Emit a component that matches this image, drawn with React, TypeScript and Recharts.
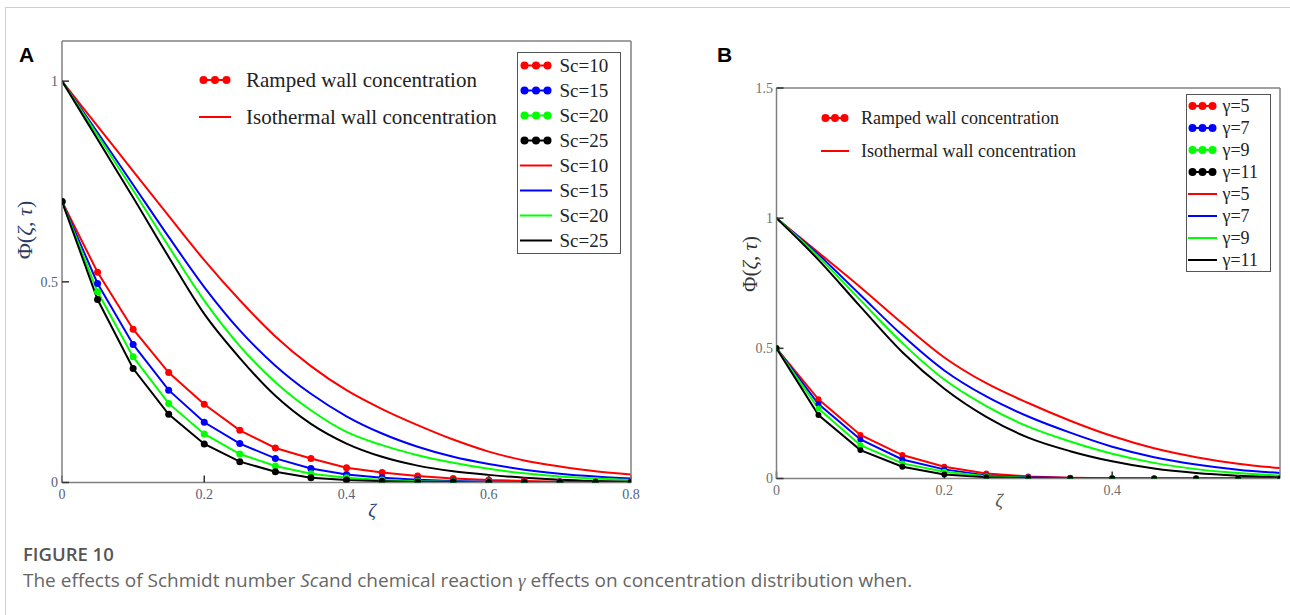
import { LineChart, Line, XAxis, YAxis, Legend } from 'recharts';

// ---- panel A: Schmidt number ----
const zetaA = [0, 0.05, 0.1, 0.15, 0.2, 0.25, 0.3, 0.35, 0.4, 0.45, 0.5, 0.55, 0.6, 0.65, 0.7, 0.75, 0.8];
const scLabels = ['Sc=10', 'Sc=15', 'Sc=20', 'Sc=25'];

const rampSc10 = [0.7, 0.524, 0.382, 0.274, 0.195, 0.13, 0.086, 0.06, 0.037, 0.025, 0.016, 0.01, 0.006, 0.004, 0.002, 0.001, 0.001];
const rampSc15 = [0.7, 0.496, 0.344, 0.23, 0.15, 0.097, 0.06, 0.035, 0.02, 0.012, 0.007, 0.004, 0.002, 0.001, 0.001, 0, 0];
const rampSc20 = [0.7, 0.475, 0.313, 0.197, 0.121, 0.071, 0.041, 0.022, 0.012, 0.006, 0.003, 0.002, 0.001, 0, 0, 0, 0];
const rampSc25 = [0.7, 0.456, 0.284, 0.17, 0.096, 0.052, 0.027, 0.012, 0.006, 0.003, 0.001, 0.001, 0, 0, 0, 0, 0];

const isoSc10 = [1, 0.888, 0.776, 0.664, 0.554, 0.454, 0.364, 0.29, 0.23, 0.183, 0.143, 0.107, 0.077, 0.055, 0.04, 0.028, 0.02];
const isoSc15 = [1, 0.872, 0.742, 0.612, 0.487, 0.379, 0.291, 0.221, 0.165, 0.122, 0.089, 0.064, 0.046, 0.032, 0.022, 0.015, 0.01];
const isoSc20 = [1, 0.865, 0.728, 0.588, 0.453, 0.34, 0.25, 0.18, 0.126, 0.093, 0.068, 0.049, 0.034, 0.023, 0.015, 0.01, 0.006];
const isoSc25 = [1, 0.855, 0.71, 0.562, 0.42, 0.31, 0.216, 0.146, 0.097, 0.064, 0.042, 0.028, 0.019, 0.012, 0.007, 0.004, 0.002];

// ---- panel B: chemical reaction ----
const zetaB = [0, 0.05, 0.1, 0.15, 0.2, 0.25, 0.3, 0.35, 0.4, 0.45, 0.5, 0.55, 0.6];
const gammaLabels = ['γ=5', 'γ=7', 'γ=9', 'γ=11'];

const rampG5 = [0.5, 0.304, 0.167, 0.09, 0.045, 0.019, 0.008, 0.003, 0.001, 0, 0, 0, 0];
const rampG7 = [0.5, 0.286, 0.15, 0.073, 0.035, 0.012, 0.005, 0.002, 0.001, 0, 0, 0, 0];
const rampG9 = [0.5, 0.269, 0.128, 0.058, 0.026, 0.009, 0.003, 0.001, 0, 0, 0, 0, 0];
const rampG11 = [0.5, 0.244, 0.109, 0.045, 0.015, 0.005, 0.002, 0.001, 0, 0, 0, 0, 0];

const isoG5 = [1, 0.868, 0.735, 0.596, 0.465, 0.366, 0.29, 0.222, 0.163, 0.116, 0.082, 0.057, 0.04];
const isoG7 = [1, 0.86, 0.705, 0.55, 0.415, 0.315, 0.238, 0.176, 0.122, 0.082, 0.054, 0.034, 0.021];
const isoG9 = [1, 0.852, 0.685, 0.52, 0.38, 0.278, 0.199, 0.142, 0.095, 0.06, 0.036, 0.021, 0.011];
const isoG11 = [1, 0.84, 0.66, 0.485, 0.345, 0.237, 0.157, 0.105, 0.066, 0.038, 0.021, 0.011, 0.005];

const COLORS = ['#ff0000', '#0000ff', '#00ff00', '#000000'];
const SERIF = '"Liberation Serif", "Times New Roman", serif';
const SANS = '"Open Sans", "Noto Sans", sans-serif';
const FRAME = '#808080';

function buildRows(zeta: number[], ramped: number[][], iso: number[][]) {
    return zeta.map((z, i) => {
        const row: Record<string, number> = { z };
        ramped.forEach((s, k) => (row[`r${k}`] = s[i]));
        iso.forEach((s, k) => (row[`i${k}`] = s[i]));
        return row;
    });
}

const dataA = buildRows(zetaA, [rampSc10, rampSc15, rampSc20, rampSc25], [isoSc10, isoSc15, isoSc20, isoSc25]);
const dataB = buildRows(zetaB, [rampG5, rampG7, rampG9, rampG11], [isoG5, isoG7, isoG9, isoG11]);

function DotsMarker({ w, h, color, r }: { w: number; h: number; color: string; r: number }) {
    const c = h / 2;
    return (
        <svg width={w} height={h} style={{ display: 'block', flex: 'none' }}>
            <line x1={r} x2={w - r} y1={c} y2={c} stroke={color} strokeWidth={2} />
            <circle cx={r + 0.5} cy={c} r={r} fill={color} />
            <circle cx={w / 2} cy={c} r={r} fill={color} />
            <circle cx={w - r - 0.5} cy={c} r={r} fill={color} />
        </svg>
    );
}

function LineMarker({ w, h, color }: { w: number; h: number; color: string }) {
    return (
        <svg width={w} height={h} style={{ display: 'block', flex: 'none' }}>
            <line x1={0} x2={w} y1={h / 2} y2={h / 2} stroke={color} strokeWidth={2} />
        </svg>
    );
}

// ramped series first, then isothermal, each in colour order
const legendRank = (key: string) => (key.startsWith('r') ? 0 : 4) + Number(key.slice(1));

// boxed series legend (right side of each panel)
function makeLegend(rowH: number, fontSize: number, markW: number, gap: number, padL: number) {
    return function SeriesLegend(props: any) {
        const payload = [...(props.payload || [])].sort(
            (a: any, b: any) => legendRank(String(a.dataKey)) - legendRank(String(b.dataKey))
        );
        return (
            <div
                style={{
                    border: '1.5px solid #555',
                    background: '#fff',
                    paddingLeft: padL,
                    fontFamily: SERIF,
                    fontSize,
                    color: '#222',
                    boxSizing: 'border-box'
                }}
            >
                {payload.map((entry: any, idx: number) => {
                    const ramped = String(entry.dataKey).startsWith('r');
                    return (
                        <div key={idx} style={{ display: 'flex', alignItems: 'center', height: rowH }}>
                            {ramped ? (
                                <DotsMarker w={markW} h={rowH} color={entry.color} r={4} />
                            ) : (
                                <LineMarker w={markW} h={rowH} color={entry.color} />
                            )}
                            <span style={{ marginLeft: gap, lineHeight: 1 }}>{entry.value}</span>
                        </div>
                    );
                })}
            </div>
        );
    };
}

const LegendA = makeLegend(25, 19, 32, 8, 1.5);
const LegendB = makeLegend(22, 18, 29, 6, 0.5);

interface PanelProps {
    data: Record<string, number>[];
    labels: string[];
    xMax: number;
    yMax: number;
    xTicks: number[];
    xTopTicks: number[];
    yTicks: number[];
    yRightTicks: number[];
    width: number;
    height: number;
    margin: { top: number; right: number; bottom: number; left: number };
    yAxisWidth: number;
    tickColor: string;
    xTickMargin: number;
    yTickMargin: number;
    legend: (p: any) => any;
    legendPos: { left: number; top: number; width: number };
    dotR: number;
}

function Panel(p: PanelProps) {
    const tickStyle = { fontSize: 14, fill: p.tickColor, fontFamily: SERIF };
    return (
        <LineChart width={p.width} height={p.height} data={p.data} margin={p.margin}>
            <XAxis
                dataKey="z"
                type="number"
                domain={[0, p.xMax]}
                ticks={p.xTicks}
                allowDataOverflow
                tick={tickStyle}
                tickFormatter={(v: number) => String(v)}
                tickSize={-7}
                tickMargin={p.xTickMargin}
                height={30}
                axisLine={{ stroke: FRAME, strokeWidth: 1.5 }}
                tickLine={{ stroke: '#333', strokeWidth: 1.5 }}
            />
            <XAxis
                xAxisId="top"
                orientation="top"
                dataKey="z"
                type="number"
                domain={[0, p.xMax]}
                ticks={p.xTopTicks}
                tick={false}
                tickSize={-7}
                height={1}
                axisLine={{ stroke: FRAME, strokeWidth: 1.5 }}
                tickLine={{ stroke: '#333', strokeWidth: 1.5 }}
            />
            <YAxis
                type="number"
                domain={[0, p.yMax]}
                ticks={p.yTicks}
                allowDataOverflow
                tick={tickStyle}
                tickFormatter={(v: number) => String(v)}
                tickSize={-7}
                tickMargin={p.yTickMargin}
                width={p.yAxisWidth}
                axisLine={{ stroke: FRAME, strokeWidth: 1.5 }}
                tickLine={{ stroke: '#333', strokeWidth: 1.5 }}
            />
            <YAxis
                yAxisId="right"
                orientation="right"
                type="number"
                domain={[0, p.yMax]}
                ticks={p.yRightTicks}
                tick={false}
                tickSize={-7}
                width={1}
                axisLine={{ stroke: FRAME, strokeWidth: 1.5 }}
                tickLine={{ stroke: '#333', strokeWidth: 1.5 }}
            />
            <Legend
                layout="vertical"
                align="center"
                verticalAlign="middle"
                content={p.legend}
                wrapperStyle={{ left: p.legendPos.left, top: p.legendPos.top, width: p.legendPos.width, bottom: 'auto', right: 'auto' }}
            />
            {COLORS.map((c, k) => (
                <Line
                    key={`r${k}`}
                    dataKey={`r${k}`}
                    name={p.labels[k]}
                    type="linear"
                    stroke={c}
                    strokeWidth={2}
                    dot={{ r: p.dotR, fill: c, stroke: c, strokeWidth: 0 }}
                    activeDot={false}
                    isAnimationActive={false}
                />
            ))}
            {COLORS.map((c, k) => (
                <Line
                    key={`i${k}`}
                    dataKey={`i${k}`}
                    name={p.labels[k]}
                    type="monotone"
                    stroke={c}
                    strokeWidth={2}
                    dot={false}
                    activeDot={false}
                    isAnimationActive={false}
                />
            ))}
        </LineChart>
    );
}

function WallLegend({ left, top1, top2, textLeft, fontSize, markW }: { left: number; top1: number; top2: number; textLeft: number; fontSize: number; markW: number }) {
    const rowH = 30;
    const row = (y: number, ramped: boolean, text: string) => (
        <div style={{ position: 'absolute', left, top: y - rowH / 2, height: rowH, display: 'flex', alignItems: 'center' }}>
            {ramped ? <DotsMarker w={markW} h={rowH} color="#ff0000" r={4} /> : <LineMarker w={markW} h={rowH} color="#ff0000" />}
            <span style={{ marginLeft: textLeft - left - markW, fontFamily: SERIF, fontSize, color: '#222', whiteSpace: 'nowrap', lineHeight: 1 }}>
                {text}
            </span>
        </div>
    );
    return (
        <>
            {row(top1, true, 'Ramped wall concentration')}
            {row(top2, false, 'Isothermal wall concentration')}
        </>
    );
}

function PhiLabel({ x, y, color, size }: { x: number; y: number; color: string; size: number }) {
    return (
        <div
            style={{
                position: 'absolute',
                left: x,
                top: y,
                transform: 'translate(-50%, -50%) rotate(-90deg)',
                fontFamily: SERIF,
                fontSize: size,
                color,
                whiteSpace: 'nowrap',
                lineHeight: 1
            }}
        >
            Φ(<i>ζ</i>, <i>τ</i>)
        </div>
    );
}

function ZetaLabel({ x, y, color }: { x: number; y: number; color: string }) {
    return (
        <div
            style={{
                position: 'absolute',
                left: x,
                top: y,
                transform: 'translate(-50%, -50%)',
                fontFamily: SERIF,
                fontStyle: 'italic',
                fontSize: 19,
                color,
                lineHeight: 1
            }}
        >
            ζ
        </div>
    );
}

export default function App() {
    return (
        <div style={{ position: 'absolute', left: 0, top: 0, width: 1290, height: 615, background: '#fff', overflow: 'hidden' }}>
            {/* figure frame */}
            <div style={{ position: 'absolute', left: 5, top: 7, width: 1400, height: 800, border: '1px solid #cfcfcf' }} />

            {/* panel A */}
            <div style={{ position: 'absolute', left: 0, top: 0 }}>
                <Panel
                    data={dataA}
                    labels={scLabels}
                    xMax={0.8}
                    yMax={1.1}
                    xTicks={[0, 0.2, 0.4, 0.6, 0.8]}
                    xTopTicks={[0.2, 0.4, 0.6]}
                    yTicks={[0, 0.5, 1]}
                    yRightTicks={[0.5, 1]}
                    width={650}
                    height={540}
                    margin={{ top: 40, right: 18, bottom: 27.5, left: 0 }}
                    yAxisWidth={62}
                    tickColor="#56617d"
                    xTickMargin={14}
                    yTickMargin={11}
                    legend={LegendA}
                    legendPos={{ left: 517, top: 52, width: 104 }}
                    dotR={3.5}
                />
            </div>
            <WallLegend left={199} top1={80} top2={117} textLeft={246} fontSize={21} markW={32} />
            <PhiLabel x={25} y={230} color="#2b3d66" size={22} />
            <ZetaLabel x={372} y={510} color="#2b3d66" />
            <div style={{ position: 'absolute', left: 19, top: 44, fontFamily: '"Liberation Sans", Arial, sans-serif', fontWeight: 700, fontSize: 21, color: '#000', lineHeight: 1 }}>
                A
            </div>

            {/* panel B */}
            <div style={{ position: 'absolute', left: 650, top: 0 }}>
                <Panel
                    data={dataB}
                    labels={gammaLabels}
                    xMax={0.6}
                    yMax={1.5}
                    xTicks={[0, 0.2, 0.4]}
                    xTopTicks={[0.2, 0.4]}
                    yTicks={[0, 0.5, 1, 1.5]}
                    yRightTicks={[0.5, 1]}
                    width={640}
                    height={530}
                    margin={{ top: 87, right: 9, bottom: 21.5, left: 60 }}
                    yAxisWidth={66.5}
                    tickColor="#6f6f6f"
                    xTickMargin={13.5}
                    yTickMargin={10.5}
                    legend={LegendB}
                    legendPos={{ left: 536, top: 94, width: 85 }}
                    dotR={3}
                />
            </div>
            <WallLegend left={821} top1={118} top2={151} textLeft={861} fontSize={18} markW={28} />
            <PhiLabel x={750} y={264} color="#333" size={21} />
            <ZetaLabel x={999} y={500} color="#555" />
            <div style={{ position: 'absolute', left: 717, top: 44, fontFamily: '"Liberation Sans", Arial, sans-serif', fontWeight: 700, fontSize: 21, color: '#000', lineHeight: 1 }}>
                B
            </div>

            {/* caption */}
            <div style={{ position: 'absolute', left: 23, top: 545, fontFamily: SANS, fontWeight: 600, fontSize: 18.5, color: '#555', lineHeight: 1 }}>
                FIGURE 10
            </div>
            <div style={{ position: 'absolute', left: 23, top: 571, fontFamily: SANS, fontSize: 19, color: '#666', lineHeight: 1, whiteSpace: 'nowrap' }}>
                The effects of Schmidt number <i>Sc</i>and chemical reaction <i style={{ fontFamily: SERIF }}>γ</i> effects on concentration distribution when.
            </div>
        </div>
    );
}
